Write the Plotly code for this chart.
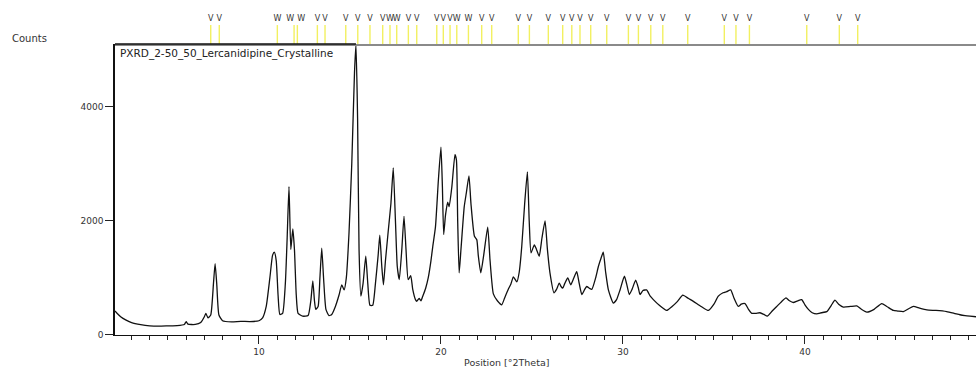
import plotly.graph_objects as go

# Diffractogram: 2Theta (deg) and counts
two_theta = [
    2.09, 2.2, 2.4, 2.7, 3.0, 3.5, 4.0, 4.5, 5.0, 5.5, 5.9, 6.0, 6.1, 6.5, 6.8, 7.0, 7.08, 7.2, 7.35, 7.5,
    7.59, 7.68, 7.8, 8.0, 8.5, 9.0, 9.5, 10.0, 10.2, 10.4, 10.6, 10.75, 10.85, 10.95, 11.05, 11.15, 11.3,
    11.45, 11.55, 11.65, 11.75, 11.86, 11.95, 12.05, 12.15, 12.4, 12.7, 12.85, 12.96, 13.05, 13.12, 13.25,
    13.35, 13.45, 13.55, 13.68, 13.85, 14.0, 14.2, 14.4, 14.55, 14.68, 14.8, 14.95, 15.1, 15.25, 15.33,
    15.42, 15.5, 15.6, 15.72, 15.87, 15.98, 16.1, 16.25, 16.4, 16.55, 16.64, 16.75, 16.84, 16.95, 17.1,
    17.25, 17.38, 17.5, 17.6, 17.71, 17.85, 17.97, 18.08, 18.2, 18.34, 18.45, 18.6, 18.67, 18.8, 18.9,
    19.0, 19.16, 19.3, 19.45, 19.55, 19.7, 19.86, 20.0, 20.08, 20.15, 20.25, 20.37, 20.45, 20.6, 20.77,
    20.85, 20.92, 21.0, 21.1, 21.28, 21.4, 21.54, 21.65, 21.84, 21.97, 22.05, 22.19, 22.35, 22.57, 22.7,
    22.88, 23.1, 23.34, 23.5, 23.7, 23.85, 23.98, 24.17, 24.3, 24.44, 24.6, 24.75, 24.85, 24.95, 25.13,
    25.25, 25.4, 25.55, 25.72, 25.85, 25.99, 26.21, 26.35, 26.5, 26.6, 26.69, 26.8, 26.97, 27.13, 27.3,
    27.46, 27.6, 27.74, 27.9, 28.01, 28.15, 28.29, 28.5, 28.65, 28.8, 28.92, 29.05, 29.2, 29.47, 29.65,
    29.84, 30.08, 30.2, 30.35, 30.5, 30.7, 30.85, 30.94, 31.1, 31.3, 31.5, 31.67, 32.0, 32.4, 32.7, 33.0,
    33.29, 33.6, 33.87, 34.3, 34.7, 35.0, 35.24, 35.5, 35.7, 35.92, 36.1, 36.34, 36.5, 36.71, 36.9, 37.08,
    37.3, 37.53, 37.75, 37.93, 38.2, 38.45, 38.7, 38.96, 39.15, 39.36, 39.6, 39.82, 40.0, 40.19, 40.4,
    40.65, 40.9, 41.2, 41.45, 41.65, 41.85, 42.11, 42.5, 42.85, 43.1, 43.4, 43.8, 44.22, 44.5, 44.86,
    45.1, 45.41, 45.7, 45.96, 46.3, 46.7, 47.2, 47.79, 48.2, 48.52, 48.8, 49.07, 49.4,
]
counts = [
    420, 380, 320, 260, 215, 180, 160, 155, 160, 165, 185, 235, 190, 185, 220, 320, 380, 300, 350, 900,
    1250, 900, 350, 250, 230, 240, 235, 250, 300, 500, 1000, 1400, 1450, 1300, 700, 360, 380,
    900, 1700, 2600, 1500, 1860, 1500, 700, 380, 330, 340, 600, 950, 600, 450, 500,
    1000, 1520, 1000, 450, 340, 360, 500, 700, 880, 790, 1000, 1800, 3000, 4600, 5090,
    3800, 1500, 680, 900, 1380, 900, 520, 520, 900, 1400, 1750, 1200, 880, 1300, 1810,
    2300, 2930, 2000, 1200, 970, 1500, 2080, 1500, 970, 1040, 800, 620, 590, 640, 600,
    680, 820, 1000, 1300, 1550, 1900, 2720, 3290, 2600, 1760, 2100, 2330, 2250, 2600, 3160,
    3070, 2000, 1090, 1500, 2250, 2500, 2790, 2300, 1730, 1670, 1400, 1090, 1400, 1890, 1300,
    720, 600, 530, 650, 800, 900, 1020, 930, 1100, 1550, 2300, 2860, 2000, 1440, 1580,
    1500, 1380, 1700, 2000, 1500, 1090, 740, 800, 910, 850, 820, 900, 1000, 880, 1000,
    1110, 900, 710, 800, 850, 820, 800, 1000, 1200, 1350, 1450, 1100, 790, 560, 620,
    790, 1030, 900, 710, 800, 960, 820, 710, 780, 790, 680, 620, 520, 430, 500, 590,
    700, 640, 590, 500, 430, 540, 680, 740, 760, 790, 650, 500, 540, 550, 450, 380,
    380, 390, 360, 330, 420, 500, 580, 650, 600, 570, 600, 620, 530, 450, 390,
    370, 390, 410, 520, 610, 540, 490, 500, 510, 450, 400, 450, 550, 500, 430,
    420, 410, 460, 500, 470, 440, 430, 410, 380, 355, 340, 330, 320,
]

# Reference pattern positions (2Theta) and their labels in the strip above the plot
ref_positions = [
    7.35, 7.82, 11.01, 11.93, 12.11, 13.21, 13.63, 14.77, 15.43, 16.10, 16.80, 17.20, 17.57, 18.21,
    18.67, 19.77, 20.13, 20.50, 20.87, 21.51, 22.24, 22.79, 24.25, 24.86, 25.90, 26.69, 27.19, 27.64,
    28.23, 29.11, 30.30, 30.85, 31.53, 32.19, 33.56, 35.57, 36.21, 36.95, 40.10, 41.89, 42.90,
]
ref_labels = [
    "V", "V", "W", "W", "W", "V", "V", "V", "V", "V", "V", "W", "W", "V",
    "V", "V", "V", "V", "W", "W", "V", "V", "V", "V", "V", "V", "V", "V",
    "V", "V", "V", "V", "V", "V", "V", "V", "V", "V", "V", "V", "V",
]

x_tick_vals = [10, 20, 30, 40]
y_tick_vals = [0, 2000, 4000]

FONT = "DejaVu Sans"
MAIN_TOP = 0.8687

# labels of very close sticks are nudged apart so they don't sit on each other
label_pos = ["middle center"] * len(ref_positions)
for i in range(1, len(ref_positions)):
    if ref_positions[i] - ref_positions[i - 1] < 0.25:
        label_pos[i - 1] = "middle left"
        label_pos[i] = "middle right"

fig = go.Figure()

fig.add_trace(go.Scatter(
    x=two_theta, y=counts, mode="lines",
    line=dict(color="#111111", width=1.3, shape="spline", smoothing=0.5),
    xaxis="x", yaxis="y", showlegend=False, hoverinfo="skip",
))

# reference stick lines in the top strip
stick_x, stick_y = [], []
for p in ref_positions:
    stick_x += [p, p, None]
    stick_y += [0, 0.43, None]
fig.add_trace(go.Scatter(
    x=stick_x, y=stick_y, mode="lines",
    line=dict(color="#f2f060", width=1.4),
    xaxis="x2", yaxis="y2", showlegend=False, hoverinfo="skip",
))
fig.add_trace(go.Scatter(
    x=ref_positions, y=[0.56] * len(ref_positions), mode="text",
    text=ref_labels, textposition=label_pos,
    textfont=dict(family=FONT, size=8, color="#333333"),
    xaxis="x2", yaxis="y2", showlegend=False, hoverinfo="skip", cliponaxis=False,
))

x_range = [2.09, 49.4]

fig.update_layout(
    width=976, height=368,
    margin=dict(l=115, r=0, t=0, b=33),
    paper_bgcolor="white", plot_bgcolor="white",
    font=dict(family=FONT, size=9, color="#333333"),
    xaxis=dict(
        range=x_range, domain=[0, 1], anchor="y",
        showgrid=False, zeroline=False,
        showline=True, linecolor="#111111", linewidth=1.3,
        tickmode="array", tickvals=x_tick_vals,
        ticks="outside", ticklen=8, tickcolor="#222222", tickwidth=1,
        tickfont=dict(family=FONT, size=9, color="#333333"),
        minor=dict(dtick=1, tick0=0, ticks="outside", ticklen=4, tickcolor="#222222", showgrid=False),
    ),
    yaxis=dict(
        range=[0, 5100], domain=[0, MAIN_TOP], anchor="x",
        showgrid=False, zeroline=False,
        showline=True, linecolor="#111111", linewidth=1.6,
        tickmode="array", tickvals=y_tick_vals,
        ticks="outside", ticklen=8, tickcolor="#222222", tickwidth=1,
        tickfont=dict(family=FONT, size=9, color="#333333"),
    ),
    xaxis2=dict(
        range=x_range, domain=[0, 1], anchor="y2", matches="x",
        showgrid=False, zeroline=False, showticklabels=False, ticks="",
        showline=True, linecolor="#8a8a8a", linewidth=1.5,
    ),
    yaxis2=dict(
        range=[0, 1], domain=[MAIN_TOP, 1], anchor="x2",
        visible=False,
    ),
    annotations=[
        dict(text="PXRD_2-50_50_Lercanidipine_Crystalline", xref="paper", yref="paper",
             x=0.003, y=MAIN_TOP - 0.002, xanchor="left", yanchor="top", showarrow=False,
             font=dict(family=FONT, size=10.5, color="#222222")),
        dict(text="Counts", xref="paper", yref="paper", x=-0.122, y=0.8836,
             xanchor="left", yanchor="middle", showarrow=False,
             font=dict(family=FONT, size=10, color="#333333")),
        dict(text="Position [°2Theta]", xref="paper", yref="paper", x=0.455, y=-0.081,
             xanchor="center", yanchor="middle", showarrow=False,
             font=dict(family=FONT, size=9.5, color="#333333")),
    ],
    shapes=[
        dict(type="line", xref="x", yref="paper", x0=x_range[0], x1=15.33,
             y0=MAIN_TOP, y1=MAIN_TOP, line=dict(color="#111111", width=1.3)),
    ],
)

fig.write_html("out.html")
